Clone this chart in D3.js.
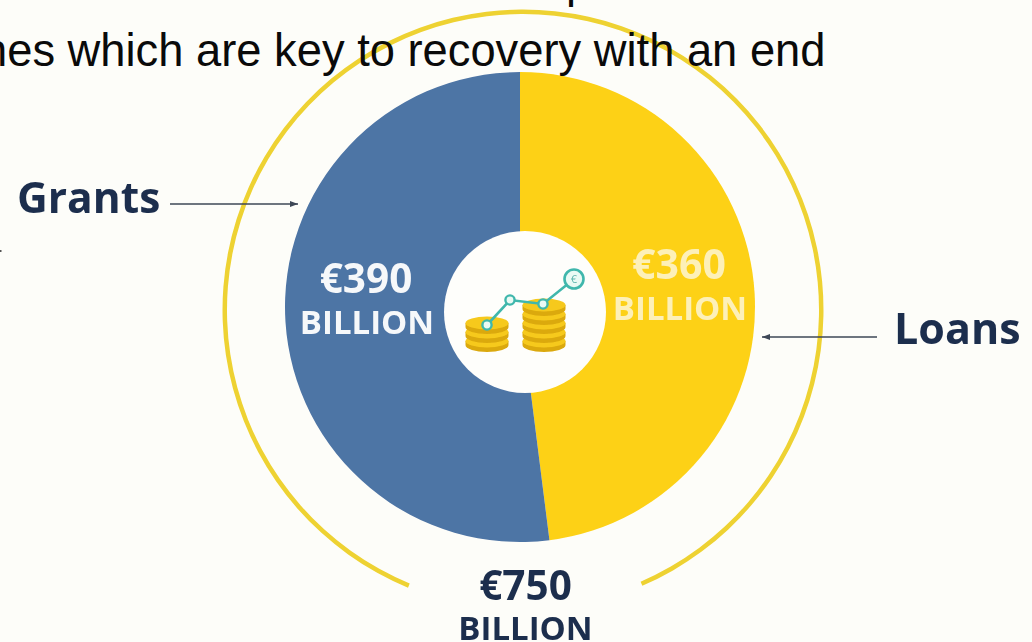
<!DOCTYPE html>
<html><head><meta charset="utf-8">
<style>html,body{margin:0;padding:0;background:#fdfdf9;overflow:hidden}svg{display:block}
.art{font-family:"Open Sans",sans-serif;font-weight:700}
.slide{font-family:"Liberation Sans",Arial,sans-serif;fill:#0a0a0a}</style>
</head><body>
<script src="https://cdnjs.cloudflare.com/ajax/libs/d3/7.8.5/d3.min.js"></script>
<script>
const categories = ["Loans", "Grants"];
const values = [360, 390];
const total = 750;
const sliceColors = ["#fdd116", "#4e74a5"];
const amountLabels = ["€360", "€390"];
const unitLabel = "BILLION";
const slideLine = "nes which are key to recovery with an end";
const stackSmall = [0, 1, 2];
const stackTall = [0, 1, 2, 3, 4];
const trend = [[487, 325], [510, 300], [543, 304], [574, 279]];

const W = 1032, H = 642;
const svg = d3.select("body").append("svg").attr("width", W).attr("height", H).attr("viewBox", `0 0 ${W} ${H}`);
const defs = svg.append("defs");
defs.append("filter").attr("id", "soft").append("feGaussianBlur").attr("stdDeviation", 0.6);
defs.append("marker").attr("id", "arrow").attr("viewBox", "0 0 8 6").attr("refX", 8).attr("refY", 3)
  .attr("markerWidth", 8).attr("markerHeight", 6).attr("markerUnits", "userSpaceOnUse").attr("orient", "auto")
  .append("path").attr("d", "M0,0L8,3L0,6Z").attr("fill", "#3d4657");

svg.append("rect").attr("width", W).attr("height", H).attr("fill", "#fdfdf9");
const art = svg.append("g").attr("filter", "url(#soft)");

// outer ring
const ringArc = d3.arc().innerRadius(296).outerRadius(300.5)
  .startAngle(-157.5 * Math.PI / 180).endAngle(156.6 * Math.PI / 180);
art.append("path").attr("transform", "translate(523,310)").attr("d", ringArc()).attr("fill", "#eed232");

// pie
const pie = d3.pie().sort(null).value(d => d)(values);
const arc = d3.arc().innerRadius(0).outerRadius(235);
const pieG = art.append("g").attr("transform", "translate(520,307)");
pieG.selectAll("path").data(pie).join("path").attr("d", arc).attr("fill", (d, i) => sliceColors[i]);
art.append("circle").attr("cx", 525).attr("cy", 312).attr("r", 81).attr("fill", "#fefefb");

// coin icon
const coinY = d3.scaleLinear().domain([0, 5]).range([341, 296]);
function stack(data, cx) {
  const g = art.append("g");
  data.forEach(i => {
    const y = coinY(i);
    g.append("path").attr("d", `M${cx - 21.5},${y}v4a21.5,7 0 0 0 43,0v-4Z`).attr("fill", "#dba90f");
    g.append("ellipse").attr("cx", cx).attr("cy", y).attr("rx", 21.5).attr("ry", 6.5).attr("fill", "#f6c91a");
  });
}
stack(stackSmall, 487);
stack(stackTall, 544);
art.append("path").attr("d", d3.line()(trend)).attr("fill", "none").attr("stroke", "#3fb7ac").attr("stroke-width", 2.6);
art.selectAll("circle.node").data(trend.slice(0, 3)).join("circle").attr("class", "node")
  .attr("cx", d => d[0]).attr("cy", d => d[1]).attr("r", 4.6)
  .attr("fill", "#eafaf4").attr("stroke", "#3fb7ac").attr("stroke-width", 2.4);
const eu = trend[3];
art.append("circle").attr("cx", eu[0]).attr("cy", eu[1]).attr("r", 9.5).attr("fill", "#eafaf4").attr("stroke", "#3fb7ac").attr("stroke-width", 2.6);
art.append("text").attr("x", eu[0]).attr("y", eu[1] + 4).attr("text-anchor", "middle").attr("font-size", 11)
  .attr("font-family", "Open Sans").attr("fill", "#5fb5ad").text("€");

// labels
const T = (x, y, s, size, fill, anchor = "middle") => art.append("text").attr("class", "art")
  .attr("x", x).attr("y", y).attr("font-size", size).attr("fill", fill).attr("text-anchor", anchor).text(s);
T(366, 293, amountLabels[1], 40.5, "#f6f8fa");
T(367, 334, unitLabel, 33, "#f6f8fa");
T(679, 279, amountLabels[0], 41, "#fdf0b8");
T(680, 320, unitLabel, 33, "#fdf0b8");
T(525.5, 600, "€" + total, 40.5, "#1c2e4e");
T(525.5, 640, unitLabel, 33, "#1c2e4e");
T(17, 213, categories[1], 42.5, "#1c2e4e", "start");
T(894, 344, categories[0], 43, "#1c2e4e", "start");

// arrows
art.append("line").attr("x1", 170).attr("x2", 298).attr("y1", 204).attr("y2", 204)
  .attr("stroke", "#3d4657").attr("stroke-width", 1.4).attr("marker-end", "url(#arrow)");
art.append("line").attr("x1", 877).attr("x2", 762).attr("y1", 337).attr("y2", 337)
  .attr("stroke", "#3d4657").attr("stroke-width", 1.4).attr("marker-end", "url(#arrow)");

// slide text
svg.append("text").attr("class", "slide").attr("x", -18).attr("y", 66).attr("font-size", 45.3).text(slideLine);
svg.append("text").attr("class", "slide").attr("x", 566).attr("y", -2).attr("font-size", 45).text("p");
svg.append("rect").attr("x", 0).attr("y", 250).attr("width", 1.5).attr("height", 2).attr("fill", "#555");
</script>
</body></html>
